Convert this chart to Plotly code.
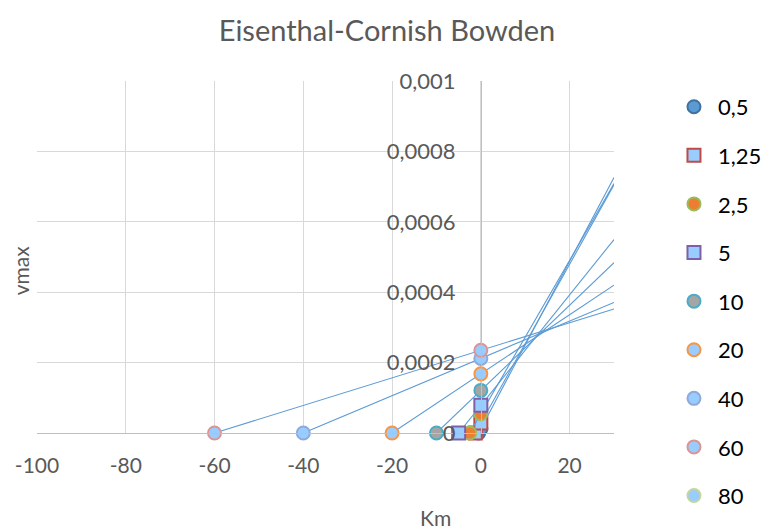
import plotly.graph_objects as go

# ---- data ----
substrate = [0.5, 1.25, 2.5, 5, 10, 20, 40, 60, 80]
labels = ["0,5", "1,25", "2,5", "5", "10", "20", "40", "60", "80"]
vmax = [0.0000119, 0.0000282, 0.0000545, 0.0000785, 0.000121, 0.000168, 0.000212, 0.000235, None]
x_ticks = [-100, -80, -60, -40, -20, 0, 20]
x_tick_labels = ["-100", "-80", "-60", "-40", "-20", "0", "20"]
y_ticks = [0, 0.0002, 0.0004, 0.0006, 0.0008, 0.001]
X_RANGE = [-100, 30]
Y_RANGE = [0, 0.001]

# ---- styles ----
symbols = ["circle", "square", "circle", "square", "circle", "circle", "circle", "circle", "circle"]
fills = ["#5B9BD5", "#99CCFF", "#ED7D31", "#99CCFF", "#A5A5A5", "#99CCFF", "#99CCFF", "#99CCFF", "#99CCFF"]
edges = ["#41719C", "#BE4B48", "#9BBB59", "#7F60A8", "#4BACC6", "#F79646", "#8EA9DB", "#D99694", "#C3D69B"]
LINE_COLOR = "#5B9BD5"
FONT = "Lato"

fig = go.Figure()
x_end = X_RANGE[1]
for i, (s, v, lab) in enumerate(zip(substrate, vmax, labels)):
    grp = f"g{i}"
    if v is not None:
        fig.add_trace(go.Scatter(
            x=[-s, 0, x_end], y=[0, v, v * (1 + x_end / s)],
            mode="lines", line=dict(color=LINE_COLOR, width=1.1),
            showlegend=False, legendgroup=grp, hoverinfo="skip"))
        mx, my = [-s, 0], [0, v]
    else:
        mx, my = [None], [None]
    fig.add_trace(go.Scatter(
        x=mx, y=my, mode="markers", name=lab, legendgroup=grp,
        marker=dict(symbol=symbols[i], size=13, color=fills[i],
                    line=dict(color=edges[i], width=2)),
        cliponaxis=False))

y_axis_pos = (0 - X_RANGE[0]) / (X_RANGE[1] - X_RANGE[0])

fig.update_layout(
    width=774, height=531,
    margin=dict(l=37, r=160, t=81, b=98, autoexpand=False),
    paper_bgcolor="white", plot_bgcolor="white",
    separators=",.",
    font=dict(family=FONT, color="#595959", size=21),
    title=dict(text="Eisenthal-Cornish Bowden", x=0.5, xanchor="center",
               y=1 - 31 / 531, yanchor="middle", yref="container",
               font=dict(family=FONT, size=29, color="#595959")),
    xaxis=dict(range=X_RANGE, tickvals=x_ticks, ticktext=x_tick_labels,
               showgrid=True, gridcolor="#D9D9D9",
               gridwidth=1, zeroline=False, showline=True, linecolor="#BFBFBF",
               linewidth=1, ticks="", ticklabelstandoff=14, automargin=False,
               tickfont=dict(family=FONT, size=21, color="#595959")),
    yaxis=dict(range=Y_RANGE, tickvals=y_ticks, tickformat=".4~f",
               showgrid=True, gridcolor="#D9D9D9", gridwidth=1, zeroline=False,
               showline=True, linecolor="#BFBFBF", linewidth=1, ticks="",
               anchor="free", position=y_axis_pos, side="left", automargin=False,
               ticklabelstandoff=21,
               tickfont=dict(family=FONT, size=22, color="#595959")),
    legend=dict(x=1.097, xanchor="left", y=0.986, yanchor="top",
                traceorder="grouped", tracegroupgap=17, maxheight=600,
                itemwidth=38,
                font=dict(family=FONT, size=22, color="#000000"),
                bgcolor="rgba(0,0,0,0)"),
    annotations=[
        dict(text="vmax", xref="paper", yref="paper", x=-0.029, y=0.463,
             xanchor="center", yanchor="middle",
             textangle=-90, showarrow=False,
             font=dict(family=FONT, size=21, color="#595959")),
        dict(text="Km", xref="paper", yref="paper", x=0.6915, y=-0.241,
             xanchor="center", yanchor="middle",
             showarrow=False, font=dict(family=FONT, size=21, color="#595959")),
    ],
)

fig.write_html("out.html", config={"displayModeBar": False},
               post_script="document.body.style.margin='0px';")
